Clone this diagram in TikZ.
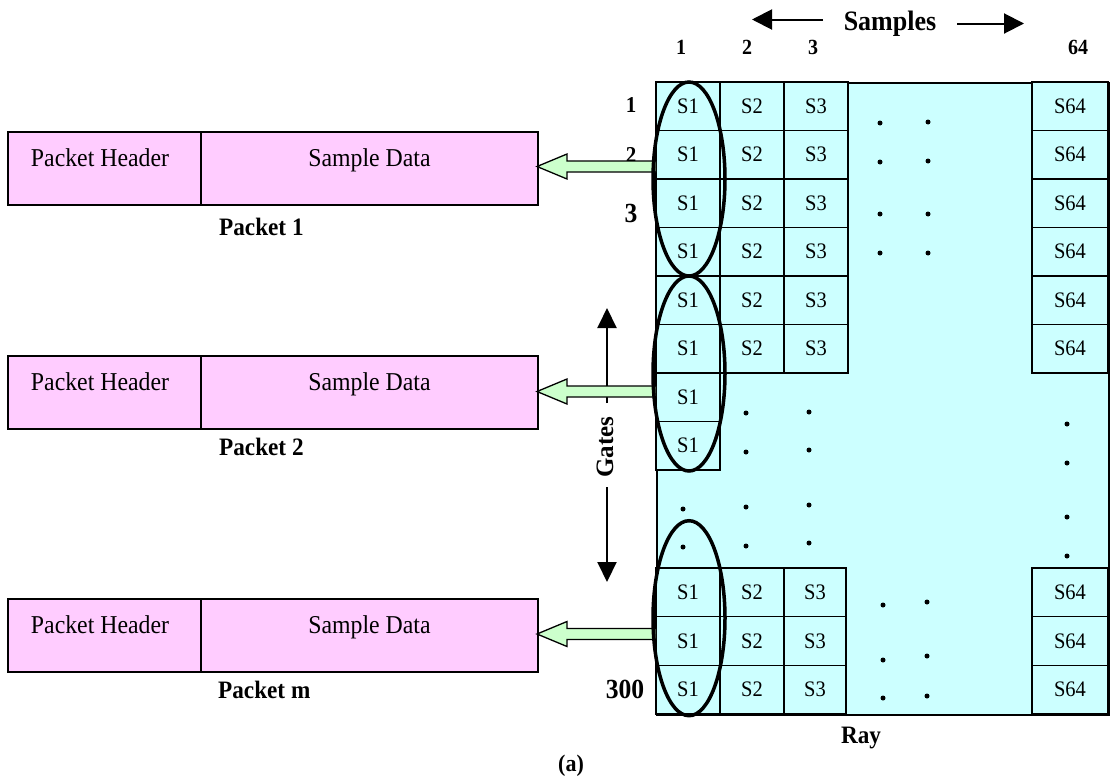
\documentclass[tikz,border=0pt]{standalone}
\usepackage{fontspec}
\setmainfont{Liberation Serif}
\usetikzlibrary{arrows.meta}
\definecolor{cyanbg}{HTML}{CCFFFF}
\definecolor{pinkbg}{HTML}{FFCCFF}
\definecolor{greenbg}{HTML}{CCFFCC}
\newcommand\vst[1]{\scalebox{1}[1.08]{#1}}
\begin{document}
\begin{tikzpicture}[x=1pt,y=-1pt,
  cell/.style={draw, line width=1.6pt, fill=cyanbg, minimum width=64pt, minimum height=48.5pt, inner sep=0pt, font=\fontsize{20.5}{24}\selectfont},
  pbox/.style={draw, line width=2pt, fill=pinkbg, minimum height=73pt, inner sep=0pt, anchor=north west, text height=34pt, text depth=39pt, font=\fontsize{23.8}{28}\selectfont},
  lbl/.style={font=\bfseries\fontsize{23.2}{28}\selectfont, inner sep=0pt, anchor=base},
  num/.style={font=\bfseries\fontsize{20}{24}\selectfont, inner sep=0pt, anchor=base},
  big/.style={font=\bfseries\fontsize{25.6}{30}\selectfont, inner sep=0pt, anchor=base},
  oval/.style={line width=3.5pt},
  garrow/.style={draw=black, line width=1.3pt, fill=greenbg, line join=miter},
  blk/.style={line width=2pt, -{Triangle[width=19pt,length=20pt]}},
]
\useasboundingbox (0,0) rectangle (1110,782);

% ray background
\node[draw, line width=1.6pt, fill=cyanbg, minimum width=452pt, minimum height=632pt, anchor=north west, inner sep=0pt] (ray) at (656,82) {};

% rows 1-6
\foreach \r in {1,...,6} {
  \pgfmathsetmacro\cy{82+48.5*(\r-0.5)}
  \node[cell] (a\r-1) at (688,\cy) {\vst{S1}};
  \node[cell] (a\r-2) at (752,\cy) {\vst{S2}};
  \node[cell] (a\r-3) at (816,\cy) {\vst{S3}};
  \node[cell, minimum width=76pt] (a\r-64) at (1070,\cy) {\vst{S64}};
}
% rows 7-8
\node[cell] (a7-1) at (688,397.25) {\vst{S1}};
\node[cell] (a8-1) at (688,445.75) {\vst{S1}};
% bottom rows
\foreach \r/\cy in {1/592.3, 2/641, 3/689.7} {
  \node[cell, minimum height=48.7pt] (b\r-1) at (688,\cy) {\vst{S1}};
  \node[cell, minimum height=48.7pt] (b\r-2) at (752,\cy) {\vst{S2}};
  \node[cell, minimum height=48.7pt, minimum width=62pt] (b\r-3) at (815,\cy) {\vst{S3}};
  \node[cell, minimum height=48.7pt, minimum width=76pt] (b\r-64) at (1070,\cy) {\vst{S64}};
}

% dots
\foreach \p in {(880,123),(928,122),(880,162),(928,161),(880,214),(928,214),(880,253),(928,253),
  (683,509),(683,547),(746,413),(746,452),(746,507),(746,546),(809,412),(809,450),(809,505),(809,543),
  (1067,424),(1067,463),(1067,517),(1067,556),
  (883,605),(927,602),(883,660),(927,656),(883,698),(927,696)}
  \fill \p circle[radius=2.5pt];

% packets
\foreach \n/\t in {1/131, 2/355, 3/598} {
  \node[pbox, minimum width=193pt] (ph\n) at (7,\t) {\hspace*{-9pt}\vst{Packet Header}};
  \node[pbox, minimum width=337pt] (pd\n) at (200,\t) {\vst{Sample Data}};
}
\node[lbl, anchor=base west] (pl1) at (219,235) {\vst{Packet 1}};
\node[lbl, anchor=base west] (pl2) at (219,455) {\vst{Packet 2}};
\node[lbl, anchor=base west] (pl3) at (218,698) {\vst{Packet m}};

% row labels
\node[num, font=\bfseries\fontsize{21}{24}\selectfont] (r1) at (631,112.3) {\vst{1}};
\node[num, font=\bfseries\fontsize{21}{24}\selectfont] (r2) at (631,162) {\vst{2}};
\node[big] (r3) at (631,222.3) {\vst{3}};
\node[big] (r300) at (625,698) {\vst{300}};

% column labels
\node[num] (c1) at (681,54) {\vst{1}};
\node[num] (c2) at (747,54) {\vst{2}};
\node[num] (c3) at (813,54) {\vst{3}};
\node[num] (c64) at (1078,54) {\vst{64}};
\node[big, font=\bfseries\fontsize{26}{30}\selectfont] (samples) at (890,30) {\vst{Samples}};
\node[lbl] (raylbl) at (861,743) {\vst{Ray}};
\node[lbl, font=\bfseries\fontsize{22}{26}\selectfont] (cap) at (571,771) {\vst{(a)}};

% samples arrows
\coordinate (sa1) at (823,19.5);
\coordinate (sa1t) at (752,19.5);
\coordinate (sa2) at (957,23.5);
\coordinate (sa2t) at (1024,23.5);
\draw[blk, -{Triangle[width=20pt,length=20pt]}] (sa1) -- (sa1t);
\draw[blk, -{Triangle[width=20pt,length=20pt]}] (sa2) -- (sa2t);

% gates
\node[font=\bfseries\fontsize{25}{30}\selectfont, rotate=90, inner sep=0pt] (gates) at (605,447) {Gates};
\coordinate (g1) at (607,403);
\coordinate (g1t) at (607,308);
\coordinate (g2) at (607,487);
\coordinate (g2t) at (607,582);
\draw[blk] (g1) -- (g1t);
\draw[blk] (g2) -- (g2t);

% green arrows
\foreach \n/\c in {1/166.5, 2/391.5, 3/634} {
  \coordinate (gt\n) at (537,\c);
  \draw[garrow] (gt\n) -- ++(30,-12.5) -- ++(0,7) -- ++(89,0) -- ++(0,11) -- ++(-89,0) -- ++(0,7) -- cycle;
}

% ellipses
\draw[oval] (689,179) ellipse [x radius=36pt, y radius=97pt];
\draw[oval] (689,373.5) ellipse [x radius=36pt, y radius=97.5pt];
\draw[oval] (689,618.2) ellipse [x radius=36pt, y radius=97.5pt];
\end{tikzpicture}
\end{document}
